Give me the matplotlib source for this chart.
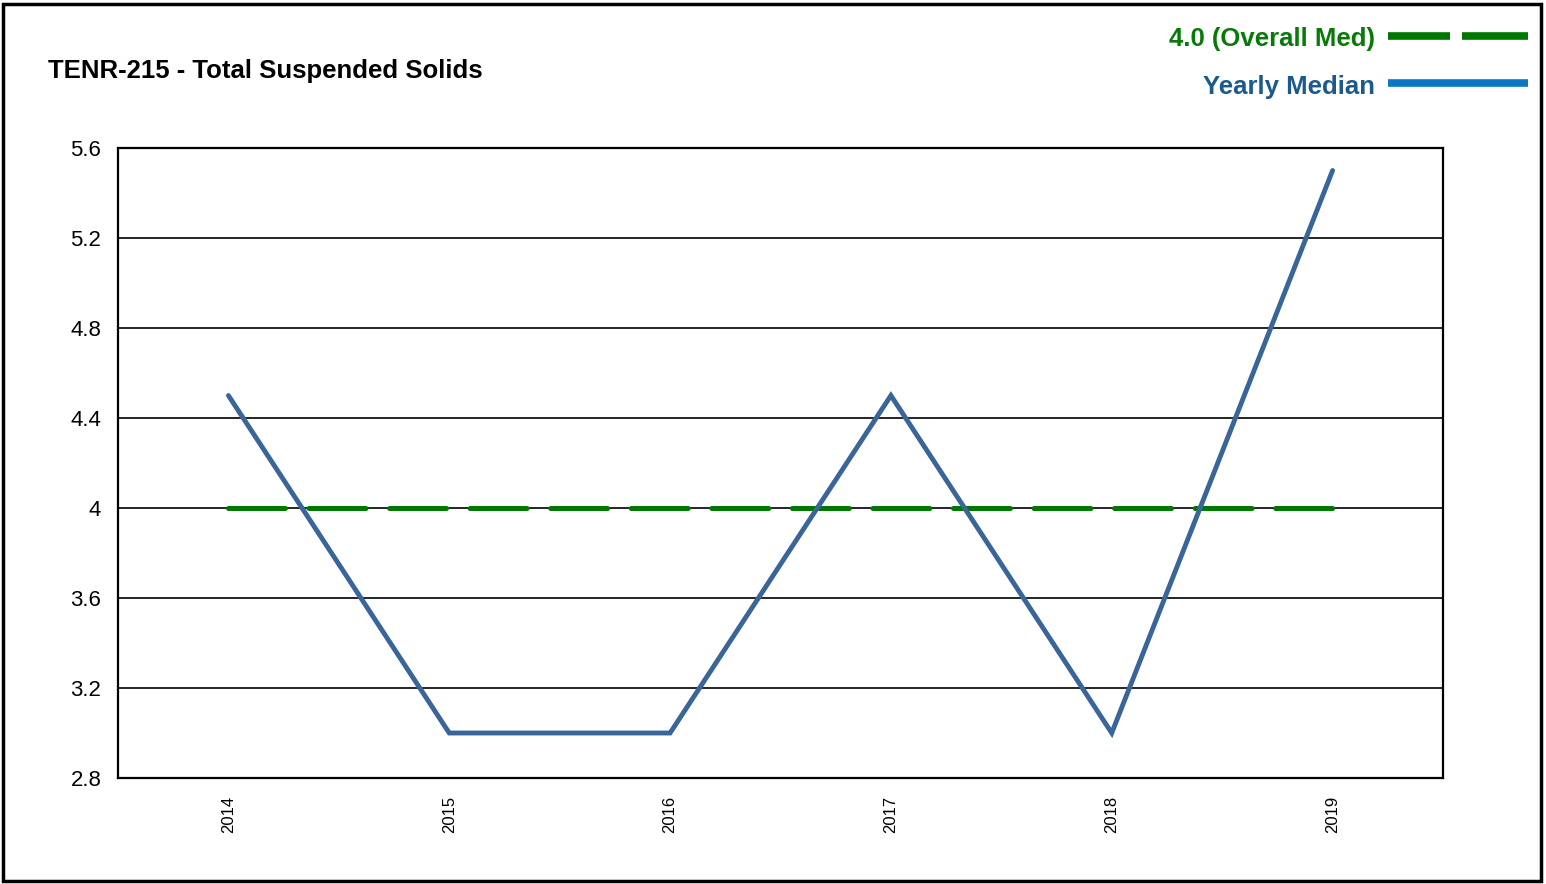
import matplotlib.pyplot as plt
from matplotlib.patches import Rectangle
from matplotlib.ticker import FuncFormatter

years = [2014, 2015, 2016, 2017, 2018, 2019]
yearly_median = [4.5, 3.0, 3.0, 4.5, 3.0, 5.5]
overall_median = 4.0
y_ticks = [2.8, 3.2, 3.6, 4.0, 4.4, 4.8, 5.2, 5.6]

plt.rcParams['font.family'] = ['Liberation Sans', 'DejaVu Sans']
plt.rcParams['lines.scale_dashes'] = False

W, H = 1546, 884
fig = plt.figure(figsize=(W / 100, H / 100), dpi=100)
ax = fig.add_axes([118 / W, 1 - 778 / H, (1443 - 118) / W, (778 - 148) / H])

# overall median (dashed) and yearly median
ax.plot([years[0], years[-1]], [overall_median] * 2, color='#007700', lw=3.6,
        dashes=(41, 17), dash_capstyle='round', zorder=3)
ax.plot(years, yearly_median, color='#3a6599', lw=3.5, zorder=4,
        solid_capstyle='round', solid_joinstyle='miter')

ax.set_xlim(2013.5, 2019.5)
ax.set_ylim(2.8, 5.6)
ax.set_xticks(years)
ax.set_xticklabels([str(y) for y in years], rotation=90, fontsize=12)
ax.set_yticks(y_ticks)
ax.yaxis.set_major_formatter(FuncFormatter(lambda v, p: '%g' % round(v, 1)))
ax.tick_params(axis='y', labelsize=16, length=0, pad=12)
ax.tick_params(axis='x', length=0, pad=13)
ax.grid(axis='y', color='black', lw=1.2)
for s in ax.spines.values():
    s.set_linewidth(1.6)

# title
fig.text(48 / W, 1 - 71 / H, 'TENR-215 - Total Suspended Solids', fontsize=18.5,
         fontweight='bold', va='center', ha='left')

# legend drawn by hand
fig.text(1375 / W, 1 - 39 / H, '4.0 (Overall Med)', color='#087a08', fontsize=18.5,
         fontweight='bold', ha='right', va='center')
fig.text(1375 / W, 1 - 87 / H, 'Yearly Median', color='#1b5a8c', fontsize=18.5,
         fontweight='bold', ha='right', va='center')
fig.add_artist(plt.Line2D([1388 / W, 1450 / W], [1 - 36 / H] * 2, color='#007700',
                          lw=5.5, solid_capstyle='butt'))
fig.add_artist(plt.Line2D([1462 / W, 1528 / W], [1 - 36 / H] * 2, color='#007700',
                          lw=5.5, solid_capstyle='butt'))
fig.add_artist(plt.Line2D([1388 / W, 1528 / W], [1 - 83 / H] * 2, color='#0a78c2',
                          lw=5.5, solid_capstyle='butt'))

# outer frame
fig.add_artist(Rectangle((3.5 / W, 3.5 / H), (W - 9) / W, (H - 7) / H,
                         fill=False, edgecolor='black', lw=2.5,
                         transform=fig.transFigure))

fig.savefig('out.png', dpi=100)
